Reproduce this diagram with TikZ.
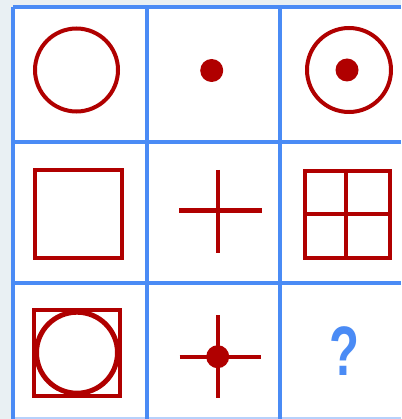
\documentclass[tikz,border=0pt]{standalone}
\usepackage{fontspec}
\setmainfont{Liberation Sans}
\definecolor{redc}{HTML}{B00000}
\definecolor{gridc}{HTML}{4A8BF5}
\definecolor{bgc}{HTML}{E9F0F3}
\begin{document}
\begin{tikzpicture}[x=1pt,y=-1pt,
  gridline/.style={draw=gridc,line width=3.2pt},
  shp/.style={draw=redc,line width=4pt},
  dotc/.style={fill=redc}]
\useasboundingbox (0,0) rectangle (401,419);
\fill[bgc] (0,0) rectangle (401,419);
\fill[white] (13,7) rectangle (401,419);
% grid
\draw[gridline] (13,7) -- (401,7);
\draw[gridline] (13,142) -- (401,142);
\draw[gridline] (13,283) -- (401,283);
\draw[gridline,draw=gridc!40] (13,419) -- (401,419);
\draw[gridline] (13,7) -- (13,419);
\draw[gridline] (147,7) -- (147,419);
\draw[gridline] (280,7) -- (280,419);
% row 1
\draw[shp] (76.5,70) circle (41.5);
\fill[dotc] (211.7,70.5) circle (11.5);
\draw[shp] (349,70) circle (42);
\fill[dotc] (347,70) circle (11.5);
% row 2
\draw[shp] (35,170) rectangle (122,258);
\draw[shp] (179,210.5) -- (262,210.5);
\draw[shp] (217.5,170) -- (217.5,253);
\draw[shp] (305,171) rectangle (390,258);
\draw[shp] (346,171) -- (346,258);
\draw[shp] (305,213.5) -- (390,213.5);
% row 3
\draw[shp] (33.5,309.5) rectangle (120,396);
\draw[shp,line width=5pt] (77,352.7) circle (40.5);
\draw[shp] (179.5,356.7) -- (261,356.7);
\draw[shp] (217.7,315) -- (217.7,398);
\fill[dotc] (217.7,356.7) circle (11.5);
\node[text=gridc,font=\bfseries\fontsize{70}{70}\selectfont,xscale=0.7] (q) at (344,351) {?};
\end{tikzpicture}
\end{document}
